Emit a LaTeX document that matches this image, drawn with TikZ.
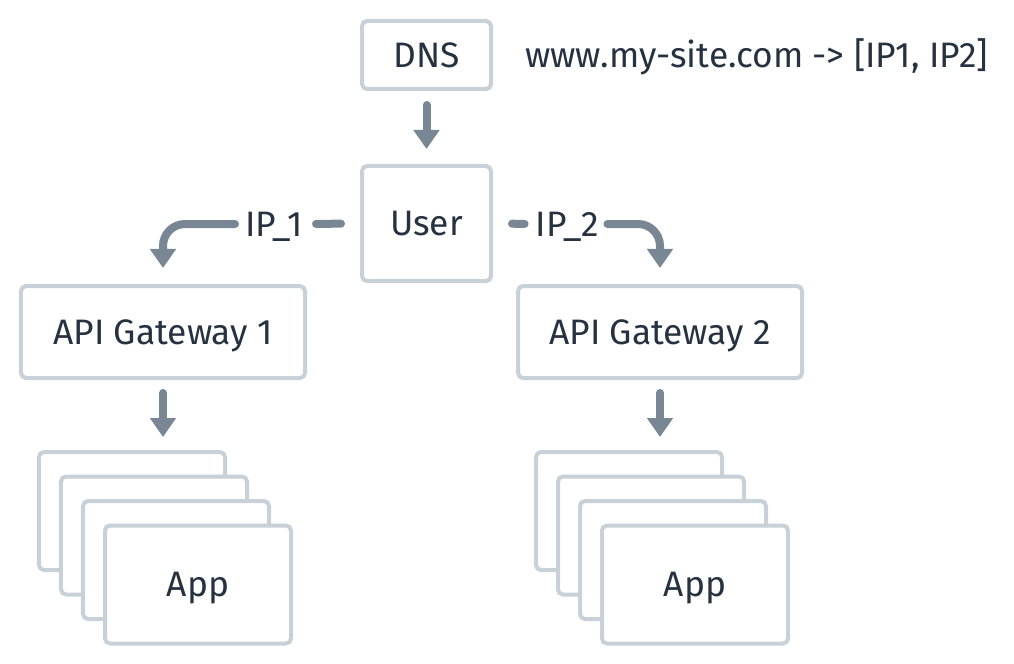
\documentclass[tikz,border=0pt]{standalone}
\usepackage{fontspec}
\setmainfont{Fira Sans}
\usetikzlibrary{arrows.meta}
\definecolor{boxgrey}{HTML}{C8D0D8}
\definecolor{arrgrey}{HTML}{798794}
\definecolor{ink}{HTML}{263240}

\begin{document}
\begin{tikzpicture}[x=1bp, y=-1bp]
    \tikzset{%
      box/.style={draw=boxgrey, line width=4bp, rounded corners=5bp,
        fill=white, text=ink, font=\fontsize{35.5}{40}\selectfont,
        inner sep=0pt, text height=24.5bp, text depth=0pt},
      small/.style={box, minimum width=129bp},
      wide/.style={box, minimum width=284bp, minimum height=92bp},
      app/.style={box, minimum width=186bp, minimum height=118bp},
      lbl/.style={text=ink, font=\fontsize{35.5}{40}\selectfont, inner sep=0pt,
        text height=24.5bp, text depth=0pt},
      arr/.style={draw=arrgrey, line width=8bp, line cap=round,
        -{Triangle[width=25bp, length=19bp]}},
      seg/.style={draw=arrgrey, line width=8bp, line cap=round},
    }
    \useasboundingbox (0,0) rectangle (1014,664);
    \node[small, minimum height=68bp] (dns) at (426.5,55) {DNS};
    \node[lbl, anchor=west] (map) at (525,55) {www.my-site.com -> [IP1, IP2]};
    \node[small, minimum height=115bp] (user) at (426.5,223.5) {User};
    \draw[arr, shorten <=14bp, shorten >=15bp] (dns) -- (user);

    \node[wide] (gw1) at (163,332) {API Gateway 1};
    \node[wide] (gw2) at (660,332) {API Gateway 2};

    % user -> gateways
    \node[lbl] (ip1) at (274,224) {IP\_1};
    \node[lbl] (ip2) at (567.5,224) {IP\_2};
    \draw[seg, shorten <=19bp, shorten >=13bp] (user.west) -- (ip1.east);
    \draw[seg, shorten <=19bp, shorten >=11bp] (user.east) -- (ip2.west);
    \draw[arr, rounded corners=22bp, shorten <=10bp, shorten >=16bp]
      (ip1.west) -| (gw1.north);
    \draw[arr, rounded corners=22bp, shorten <=8bp, shorten >=16bp]
      (ip2.east) -| (gw2.north);

    % left stack
    \node[app] (a1) at (132,511) {};
    \node[app] (a2) at (154,535.5) {};
    \node[app] (a3) at (176,560) {};
    \node[app] (a4) at (198,584.5) {App};
    \draw[arr, shorten <=13bp, shorten >=13bp] (gw1.south) -- (gw1.south |- a1.north);

    % right stack
    \node[app] (b1) at (629,511) {};
    \node[app] (b2) at (651,535.5) {};
    \node[app] (b3) at (673,560) {};
    \node[app] (b4) at (695,584.5) {App};
    \draw[arr, shorten <=13bp, shorten >=13bp] (gw2.south) -- (gw2.south |- b1.north);
\end{tikzpicture}
\end{document}
